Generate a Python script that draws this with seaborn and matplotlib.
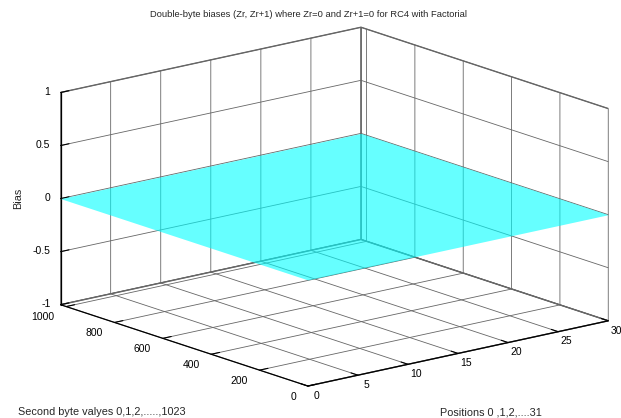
import numpy as np
import matplotlib
matplotlib.use("Agg")
import matplotlib.pyplot as plt
import seaborn as sns

# data: the bias surface is flat at zero over the whole grid
positions = [0, 30]
second_byte = [0, 1023]
bias = [[0.0, 0.0],
        [0.0, 0.0]]

x_ticks = [0, 5, 10, 15, 20, 25, 30]
y_ticks = [0, 200, 400, 600, 800, 1000]
z_ticks = [-1, -0.5, 0, 0.5, 1]

sns.set_style("white")
plt.rcParams['font.family'] = ['Liberation Sans', 'DejaVu Sans']

fig = plt.figure(figsize=(6.21, 4.18), dpi=100)
# axes bigger than the figure so the box fills it like the MATLAB output
ax = fig.add_axes([-0.163, -0.202, 1.378, 1.378], projection='3d')
ax.set_proj_type('ortho')
ax.view_init(elev=15.5, azim=-129.1)
ax.set_box_aspect((1, 1.013, 0.569))

X, Y = np.meshgrid(positions, second_byte)
Z = np.array(bias)
ax.plot_surface(X, Y, Z, color='cyan', alpha=0.6, shade=False,
                linewidth=0, antialiased=False)

ax.set_xlim(0, 30)
ax.set_ylim(0, 1023)
ax.set_zlim(-1, 1)
ax.set_xticks(x_ticks)
ax.set_yticks(y_ticks)
ax.set_zticks(z_ticks)
ax.set_zticklabels(['-1', '-0.5', '0', '0.5', '1'])

# label pad and alignment per axis, MATLAB style
label_style = {ax.xaxis: (-0.8, 'center'), ax.yaxis: (0.4, 'right'), ax.zaxis: (-4, 'right')}
for axis, (pad, ha) in label_style.items():
    axis.set_pane_color((1, 1, 1, 1))
    axis.pane.set_edgecolor('0.4')
    axis.line.set_color('black')
    axis.line.set_linewidth(0.9)
    axis._axinfo['grid'].update(color='0.4', linewidth=0.6, linestyle='-')
    axis._axinfo['tick']['inward_factor'] = 0.0
    axis._axinfo['tick']['outward_factor'] = 0.35
    axis.set_tick_params(labelsize=7.5, colors='black', pad=pad)
    for t in axis.get_major_ticks():
        t.label1.set_verticalalignment('center')
        t.label1.set_horizontalalignment(ha)

ax.set_xlabel('')
ax.set_ylabel('')
ax.set_zlabel('')

fig.text(0.496, 0.966, 'Double-byte biases (Zr, Zr+1) where Zr=0 and Zr+1=0 for RC4 with Factorial',
         ha='center', va='center', fontsize=6.75)
fig.text(0.029, 0.526, 'Bias', rotation=90, ha='center', va='center', fontsize=7.8)
fig.text(0.029, 0.014, 'Second byte valyes 0,1,2,.....,1023', ha='left', va='center', fontsize=7.8)
fig.text(0.708, 0.012, 'Positions 0 ,1,2,....31', ha='left', va='center', fontsize=7.8)

fig.savefig('out.png', dpi=100)
